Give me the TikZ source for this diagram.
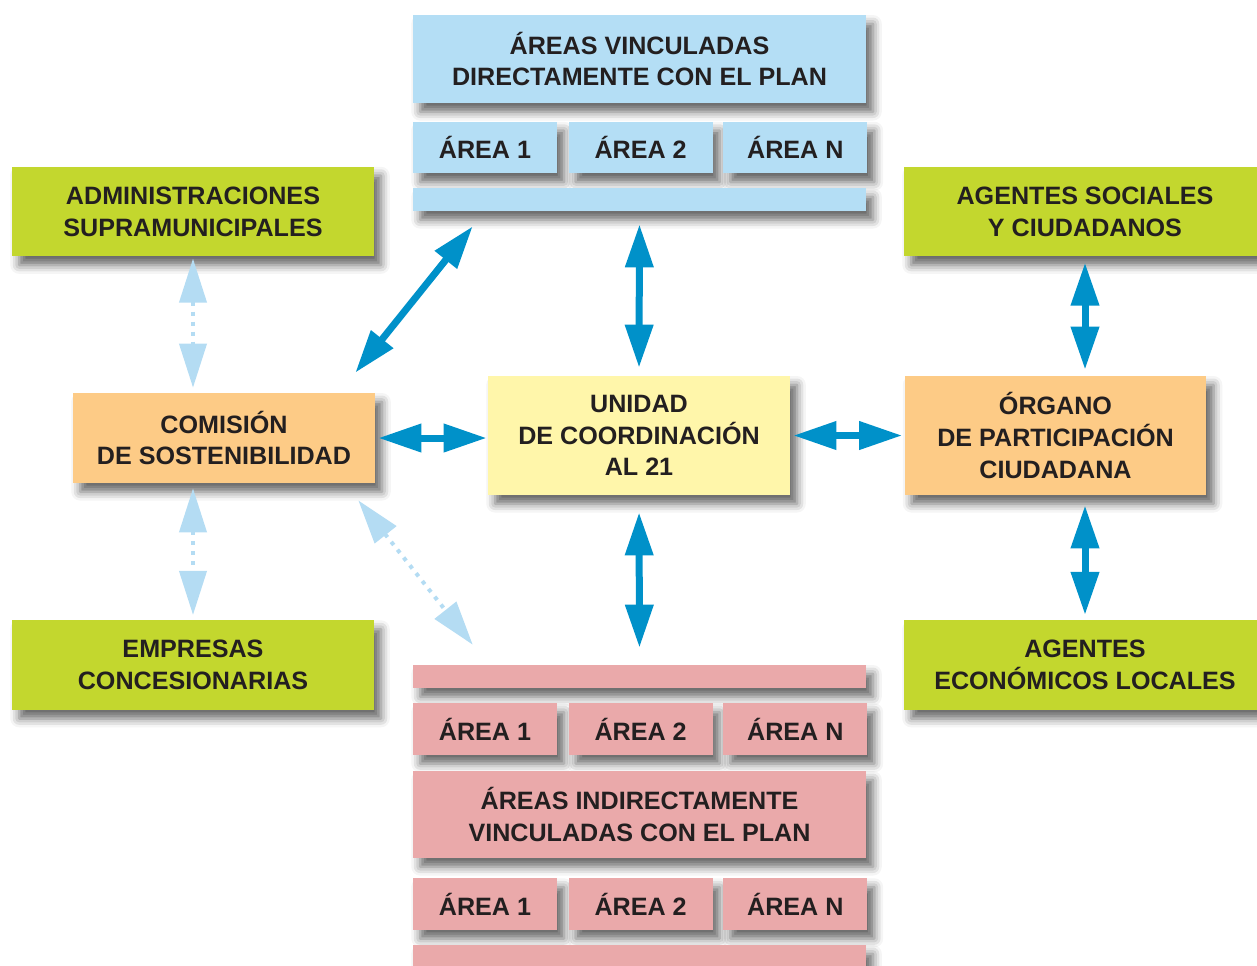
\documentclass[tikz,border=0pt]{standalone}
\usepackage{fontspec}
\setmainfont{Liberation Sans}
\usetikzlibrary{arrows.meta,shadows.blur,positioning}

\definecolor{celeste}{RGB}{180,222,245}
\definecolor{verde}{RGB}{195,215,46}
\definecolor{naranja}{RGB}{253,203,134}
\definecolor{amarillo}{RGB}{255,246,170}
\definecolor{rosa}{RGB}{234,169,170}
\definecolor{azul}{RGB}{0,145,201}
\definecolor{azulclaro}{RGB}{180,220,243}
\definecolor{tinta}{RGB}{35,31,32}

\begin{document}
\begin{tikzpicture}[x=0.02cm,y=-0.02cm]
		\tikzset{
  box/.style={
         rectangle,
         inner sep=0,
         text centered,
         align=center,
         text=tinta,
         font=\fontsize{14.3}{18.1}\selectfont\bfseries,
         blur shadow={shadow xshift=4pt, shadow yshift=-5pt,
           shadow blur radius=5pt, shadow opacity=60},
         },
  wide/.style={box, minimum width=9.06cm},
  area/.style={box, minimum width=2.88cm, minimum height=1.03cm},
  bar/.style={box, minimum width=9.06cm, minimum height=0.46cm},
  side/.style={box, minimum width=7.24cm, minimum height=1.79cm, fill=verde},
  core/.style={box, minimum width=6.04cm},
  link/.style={draw=azul, line width=0.14cm, <->,
         >={Triangle[length=0.86cm,width=0.54cm]}},
  weak/.style={draw=azulclaro, line width=0.08cm, <->,
         dash pattern=on 0.08cm off 0.12cm,
         >={Triangle[length=0.88cm,width=0.54cm]}},
}

    \useasboundingbox (0,0) rectangle (1257,965);

    % directly linked areas
    \node[wide, fill=celeste, minimum height=1.76cm] (directas) at (639.5,59)
      {ÁREAS VINCULADAS\\DIRECTAMENTE CON EL PLAN};
    \node[area, fill=celeste] (dir1) at (485,147.5) {ÁREA 1};
    \node[area, fill=celeste, right=0.22cm of dir1] (dir2) {ÁREA 2};
    \node[area, fill=celeste, right=0.2cm of dir2] (dirN) {ÁREA N};
    \node[bar, fill=celeste] (barradir) at (639.5,199.5) {};

    % outer agents
    \node[side] (admin) at (193,211.5)
      {ADMINISTRACIONES\\SUPRAMUNICIPALES};
    \node[side] (sociales) at (1085,211.5)
      {AGENTES SOCIALES\\Y CIUDADANOS};
    \node[side] (empresas) at (193,665)
      {EMPRESAS\\CONCESIONARIAS};
    \node[side] (economicos) at (1085,665)
      {AGENTES\\ECONÓMICOS LOCALES};

    % central row
    \node[core, fill=naranja, minimum height=1.8cm] (comision) at (224,438)
      {COMISIÓN\\DE SOSTENIBILIDAD};
    \node[core, fill=amarillo, minimum height=2.38cm] (unidad) at (639,435.5)
      {UNIDAD\\DE COORDINACIÓN\\AL 21};
    \node[core, fill=naranja, minimum height=2.38cm] (organo) at (1055.5,435.5)
      {ÓRGANO\\DE PARTICIPACIÓN\\CIUDADANA};

    % indirectly linked areas
    \node[bar, fill=rosa] (barraind) at (639.5,676.5) {};
    \node[area, fill=rosa] (ind1) at (485,729) {ÁREA 1};
    \node[area, fill=rosa, right=0.22cm of ind1] (ind2) {ÁREA 2};
    \node[area, fill=rosa, right=0.2cm of ind2] (indN) {ÁREA N};
    \node[wide, fill=rosa, minimum height=1.74cm] (indirectas) at (639.5,814.5)
      {ÁREAS INDIRECTAMENTE\\VINCULADAS CON EL PLAN};
    \node[area, fill=rosa] (otra1) at (485,904) {ÁREA 1};
    \node[area, fill=rosa, right=0.22cm of otra1] (otra2) {ÁREA 2};
    \node[area, fill=rosa, right=0.2cm of otra2] (otraN) {ÁREA N};
    \node[bar, fill=rosa] (barrafin) at (639.5,956.5) {};

    \path[link, shorten <=0.26cm, shorten >=0.16cm]
      (barradir.south) -- (unidad.north);
    \path[link, shorten <=0.34cm, shorten >=0.34cm]
      (unidad.south) -- (barraind.north);
    \path[link]
      ([shift={(60,15)}]barradir.south west) --
      ([shift={(-20,-20)}]comision.north east);
    \path[link, shorten <=0.06cm, shorten >=0.02cm]
      (comision.east) -- (comision.east -| unidad.west);
    \path[link, shorten <=0.06cm, shorten >=0.04cm]
      (unidad.east) -- (organo.west);
    \path[link, shorten <=0.12cm, shorten >=0.12cm]
      (sociales.south) -- (sociales.south |- organo.north);
    \path[link, shorten <=0.2cm, shorten >=0.1cm]
      (economicos.north |- organo.south) -- (economicos.north);

    \path[weak, shorten <=0.04cm, shorten >=0.1cm]
      (admin.south) -- (admin.south |- comision.north);
    \path[weak, shorten <=0.1cm, shorten >=0.1cm]
      (empresas.north |- comision.south) -- (empresas.north);
    \path[weak]
      ([shift={(-17,17)}]comision.south east) --
      ([shift={(60,-20)}]barraind.north west);

	\end{tikzpicture}
\end{document}
